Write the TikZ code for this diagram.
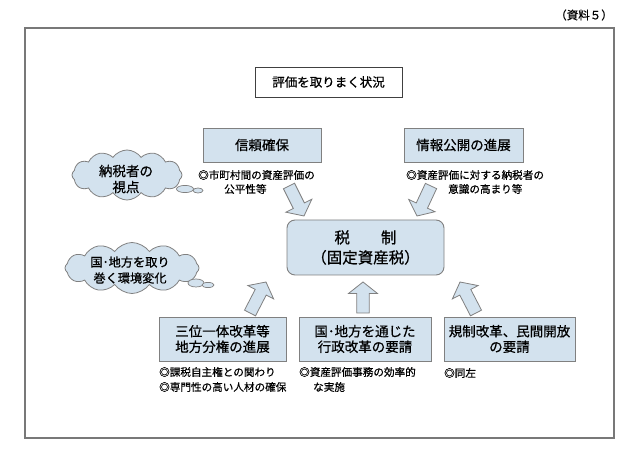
\documentclass[tikz,border=0pt]{standalone}
\usepackage{fontspec}
\setmainfont{Noto Sans CJK JP}[FakeBold=0.6]
\usetikzlibrary{shapes.symbols}
\definecolor{boxfill}{RGB}{211,226,238}
\definecolor{boxline}{RGB}{128,128,128}
\definecolor{frameline}{RGB}{120,120,120}
\newcommand{\blockarr}[4]{%
  \pgfmathsetmacro{\arAng}{atan2(-(#4-#2),#3-#1)}%
  \pgfmathsetmacro{\arLen}{veclen(#3-#1,#4-#2)}%
  \pgfmathsetmacro{\arHb}{\arLen-11.5}%
  \begin{scope}[shift={(#1,#2)}, rotate=\arAng]
    \draw[blk] (0pt,6.2pt) -- (\arHb pt,6.2pt) -- (\arHb pt,14.5pt) -- (\arLen pt,0pt)
      -- (\arHb pt,-14.5pt) -- (\arHb pt,-6.2pt) -- (0pt,-6.2pt) -- cycle;
  \end{scope}}
\begin{document}
\begin{tikzpicture}[x=1pt,y=-1pt,
  bluebox/.style={draw=boxline, fill=boxfill, line width=0.9pt, inner sep=0pt, align=center},
  blk/.style={draw=boxline, fill=boxfill, line width=0.8pt, line join=miter},
  note/.style={anchor=west, inner sep=0pt, font=\fontsize{10.6}{12}\selectfont},
  cloudshape/.style={cloud, cloud puffs=12, cloud puff arc=110, draw=boxline, fill=boxfill, line width=0.8pt, inner sep=0pt},
  bubble/.style={draw=boxline, fill=boxfill, line width=0.7pt}]
\useasboundingbox (0,0) rectangle (641,457);
\fill[white] (0,0) rectangle (641,457);

% label
\node[inner sep=0pt, font=\fontsize{11.5}{13}\selectfont] (label) at (584,15) {（資料５）};

% frame
\draw[frameline, line width=1.3pt] (25,28) rectangle (614,438);

% title
\node[draw=black!75, fill=white, line width=0.9pt, minimum width=147pt, minimum height=30pt,
      inner sep=0pt, font=\fontsize{12.5}{14}\selectfont] (title) at (328.5,82) {評価を取りまく状況};

% top boxes
\node[bluebox, minimum width=118pt, minimum height=34pt, font=\fontsize{13.5}{16}\selectfont]
  (trust) at (262,145) {信頼確保};
\node[bluebox, minimum width=119pt, minimum height=34pt, font=\fontsize{13.5}{16}\selectfont]
  (info) at (463.5,145) {情報公開の進展};

\node[note] (n1a) at (198,175) {◎市町村間の資産評価の};
\node[note] (n1b) at (224,189) {公平性等};
\node[note] (n2a) at (406,175) {◎資産評価に対する納税者の};
\node[note] (n2b) at (448,189) {意識の高まり等};

% center box
\node[bluebox, rounded corners=8pt, minimum width=157pt, minimum height=55pt,
      font=\fontsize{15.5}{20}\selectfont] (tax) at (365.5,247.5) {税　　制\\（固定資産税）};

% bottom boxes
\node[bluebox, minimum width=127pt, minimum height=44pt, font=\fontsize{13.5}{15.5}\selectfont]
  (sanmi) at (222.5,339) {三位一体改革等\\地方分権の進展};
\node[bluebox, minimum width=132pt, minimum height=44pt, font=\fontsize{13.5}{15.5}\selectfont]
  (gyosei) at (365,339) {国･地方を通じた\\行政改革の要請};
\node[bluebox, minimum width=131pt, minimum height=44pt, font=\fontsize{13.5}{15.5}\selectfont]
  (kisei) at (509.5,339) {規制改革、民間開放\\の要請};

\node[note] (n3a) at (159,372) {◎課税自主権との関わり};
\node[note] (n3b) at (159,387) {◎専門性の高い人材の確保};
\node[note] (n4a) at (299,372) {◎資産評価事務の効率的};
\node[note] (n4b) at (313,387) {な実施};
\node[note] (n5a) at (444,373) {◎同左};

% clouds
\node[cloudshape, aspect=2.4, minimum width=110pt, minimum height=50pt] (cloudA) at (127,175) {};
\node[inner sep=0pt, align=center, font=\fontsize{13.5}{16}\selectfont] (cloudAtext) at (126,179) {納税者の\\視点};
\draw[bubble] (185,189) ellipse [x radius=8.5, y radius=3.6];
\draw[bubble] (198,190.5) ellipse [x radius=5, y radius=2.5];

\node[cloudshape, aspect=2.7, minimum width=134pt, minimum height=51pt] (cloudB) at (132,268) {};
\node[inner sep=0pt, align=center, font=\fontsize{12.2}{16}\selectfont] (cloudBtext) at (130,270) {国･地方を取り\\巻く環境変化};
\draw[bubble] (196,283) ellipse [x radius=8, y radius=4];
\draw[bubble] (208,285) ellipse [x radius=6, y radius=2.6];

% block arrows
\blockarr{289}{186}{304}{216}
\blockarr{431}{186}{417}{216}
\blockarr{250}{313}{266}{282}
\blockarr{363}{313}{363}{282}
\blockarr{476}{313}{460}{282}
\end{tikzpicture}
\end{document}
